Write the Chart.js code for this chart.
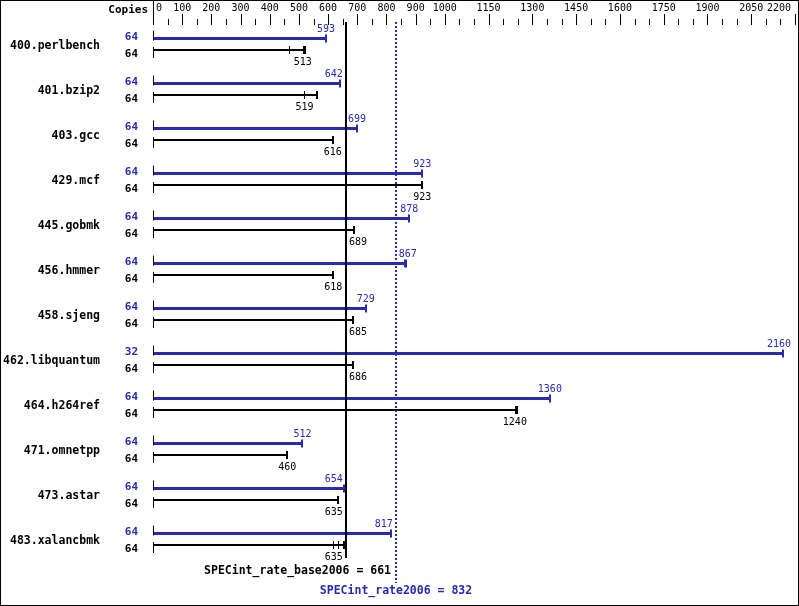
<!DOCTYPE html>
<html>
<head>
<meta charset="utf-8">
<script src="https://cdn.jsdelivr.net/npm/chart.js@4.4.0/dist/chart.umd.min.js"></script>
<style>
  html, body { margin: 0; padding: 0; background: #fff; }
  canvas { display: block; }
</style>
</head>
<body>
<canvas id="specChart" width="799" height="606"></canvas>
<script>
  // ────────── Data ──────────
  const benchmarks = ['400.perlbench', '401.bzip2', '403.gcc', '429.mcf', '445.gobmk', '456.hmmer',
                      '458.sjeng', '462.libquantum', '464.h264ref', '471.omnetpp', '473.astar', '483.xalancbmk'];
  const peakCopies = [64, 64, 64, 64, 64, 64, 64, 32, 64, 64, 64, 64];
  const baseCopies = [64, 64, 64, 64, 64, 64, 64, 64, 64, 64, 64, 64];
  const peakRatio  = [593, 642, 699, 923, 878, 867, 729, 2160, 1360, 512, 654, 817];
  const baseRatio  = [513, 519, 616, 923, 689, 618, 685, 686, 1240, 460, 635, 635];
  // individual run results (ticks on the bars)
  const peakRuns = [[593], [642], [699], [923], [878], [861, 867], [729], [2160], [1360], [512], [654], [813, 817]];
  const baseRuns = [[466, 513, 520], [519, 562], [616], [923], [689], [615, 618], [685], [686], [1240, 1248], [460], [635], [617, 635, 656]];
  const baseMean = 661;
  const peakMean = 832;
  const axisLabels = [0, 100, 200, 300, 400, 500, 600, 700, 800, 900, 1000,
                      1150, 1300, 1450, 1600, 1750, 1900, 2050, 2200];

  const BLUE = '#2a2aae';
  const MONO = '"DejaVu Sans Mono", monospace';

  function line(ctx, x1, y1, x2, y2, color, width) {
    ctx.beginPath();
    ctx.moveTo(x1, y1);
    ctx.lineTo(x2, y2);
    ctx.strokeStyle = color;
    ctx.lineWidth = width;
    ctx.stroke();
  }

  // keep a value label clear of the two mean lines and inside the plot
  function placeLabel(ctx, text, cx, lines, area) {
    const w = ctx.measureText(text).width;
    lines.forEach(L => {
      if (cx - w / 2 - 1 < L + 1 && cx + w / 2 + 1 > L - 1) {
        cx = cx <= L ? L - 3 - w / 2 : L + 3 + w / 2;
      }
    });
    cx = Math.min(cx, area.right - 4 - w / 2);
    return cx;
  }

  // ────────── Decorations: top axis, caps, labels, mean lines ──────────
  const specPlugin = {
    id: 'spec-decor',
    afterDatasetsDraw(chart) {
      const {ctx, chartArea: area, scales: {x}} = chart;
      const peakMeta = chart.getDatasetMeta(0);
      const baseMeta = chart.getDatasetMeta(1);
      const px = v => Math.round(x.getPixelForValue(v));
      const x0 = px(0);
      ctx.save();

      // frame
      ctx.strokeStyle = '#000';
      ctx.lineWidth = 1;
      ctx.strokeRect(0.5, 0.5, 798, 605);

      // top axis
      line(ctx, x0 + 0.5, 0, x0 + 0.5, 22, '#000', 1);
      ctx.font = 'bold 11px ' + MONO;
      ctx.fillStyle = '#000';
      ctx.textAlign = 'right';
      ctx.textBaseline = 'alphabetic';
      ctx.fillText('Copies', x0 - 5, 13);

      ctx.font = '10px ' + MONO;
      ctx.textAlign = 'center';
      axisLabels.forEach(v => {
        const t = String(v);
        const w = ctx.measureText(t).width;
        let cx = x.getPixelForValue(v);
        cx = Math.max(cx, area.left + 3 + w / 2);
        cx = Math.min(cx, area.right - 4 - w / 2);
        ctx.fillText(t, cx, 10.5);
        line(ctx, px(v) + 0.5, 14, px(v) + 0.5, 25, '#000', 1);
      });
      for (let v = 50; v < axisLabels[axisLabels.length - 1]; v += 50) {
        if (axisLabels.includes(v)) continue;
        line(ctx, px(v) + 0.5, 19, px(v) + 0.5, 25, '#000', 1);
      }

      const meanLines = [x.getPixelForValue(baseMean), x.getPixelForValue(peakMean)];

      benchmarks.forEach((name, i) => {
        const pY = peakMeta.data[i].y;
        const bY = baseMeta.data[i].y;

        // start brackets
        line(ctx, x0 + 0.5, pY - 8, x0 + 0.5, pY + 2, '#000', 1);
        line(ctx, x0 + 0.5, bY - 3, x0 + 0.5, bY + 8, '#000', 1);

        // run ticks
        [[peakRuns[i], pY, BLUE], [baseRuns[i], bY, '#000']].forEach(([runs, y, col]) => {
          const top = Math.max(...runs);
          runs.forEach(r => {
            const xr = px(r);
            if (r === top) line(ctx, xr, y - 4, xr, y + 4, col, 2);
            else line(ctx, xr + 0.5, y - 4, xr + 0.5, y + 4, col, 1);
          });
        });

        // benchmark name
        ctx.font = 'bold 11.5px ' + MONO;
        ctx.textAlign = 'right';
        ctx.fillStyle = '#000';
        ctx.fillText(name, 100, (pY + bY) / 2 + 4.5);

        // copies
        ctx.font = 'bold 11px ' + MONO;
        ctx.fillStyle = BLUE;
        ctx.fillText(String(peakCopies[i]), 138, pY + 1.5);
        ctx.fillStyle = '#000';
        ctx.fillText(String(baseCopies[i]), 138, bY + 7.5);

        // ratio labels
        ctx.font = '10px ' + MONO;
        ctx.textAlign = 'center';
        const pt = String(peakRatio[i]);
        ctx.fillStyle = BLUE;
        ctx.fillText(pt, placeLabel(ctx, pt, x.getPixelForValue(peakRatio[i]), meanLines, area), pY - 6.5);
        const bt = String(baseRatio[i]);
        ctx.fillStyle = '#000';
        ctx.fillText(bt, placeLabel(ctx, bt, x.getPixelForValue(baseRatio[i]), meanLines, area), bY + 15);
      });

      // mean lines
      const bx = px(baseMean);
      line(ctx, bx, 22, bx, 558, '#000', 2);
      const mx = px(peakMean);
      ctx.setLineDash([2, 2]);
      line(ctx, mx, 22, mx, 583, BLUE, 2);
      ctx.setLineDash([]);

      ctx.font = 'bold 11.5px ' + MONO;
      ctx.textAlign = 'right';
      ctx.fillStyle = '#000';
      ctx.fillText('SPECint_rate_base2006 = ' + baseMean, mx - 5, 574);
      ctx.textAlign = 'center';
      ctx.fillStyle = BLUE;
      ctx.fillText('SPECint_rate2006 = ' + peakMean, mx, 594);

      ctx.restore();
    }
  };

  // ────────── Chart ──────────
  const chart = new Chart(document.getElementById('specChart').getContext('2d'), {
    type: 'bar',
    data: {
      labels: benchmarks,
      datasets: [
        { label: 'peak', data: peakRuns.map(r => Math.max(...r)), backgroundColor: BLUE,
          categoryPercentage: 0.511, barPercentage: 0.26 },
        { label: 'base', data: baseRuns.map(r => Math.max(...r)), backgroundColor: '#000',
          categoryPercentage: 0.511, barPercentage: 0.174 }
      ]
    },
    options: {
      indexAxis: 'y',
      responsive: false,
      animation: false,
      devicePixelRatio: 1,
      layout: { padding: { left: 153, right: 4, top: 21.75, bottom: 44.25 } },
      scales: {
        x: { display: false, min: 0, max: 2200 },
        y: { display: false, offset: true }
      },
      plugins: { legend: { display: false }, tooltip: { enabled: false } }
    },
    plugins: [specPlugin]
  });
</script>
</body>
</html>
